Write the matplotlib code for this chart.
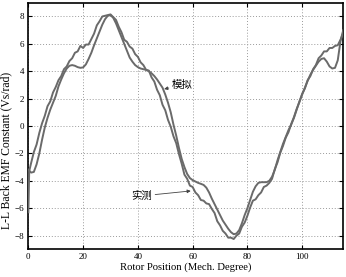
import matplotlib
matplotlib.use("Agg")
import matplotlib.pyplot as plt
import numpy as np

# Simulated (模拟) back EMF constant, 1-degree steps from 0 to 115
sim_x = list(range(0, 116))
sim_y = [-3.2, -3.4, -3.35, -2.8, -2.0, -1.0, -0.1, 0.6, 1.2, 1.7,
         2.2, 2.9, 3.4, 3.85, 4.2, 4.4, 4.45, 4.4, 4.3, 4.25,
         4.28, 4.5, 4.9, 5.35, 5.9, 6.4, 6.9, 7.4, 7.8, 8.05,
         8.1, 7.9, 7.5, 7.0, 6.5, 6.0, 5.5, 5.0, 4.7, 4.45,
         4.3, 4.2, 4.15, 4.1, 4.0, 3.85, 3.65, 3.4, 3.1, 2.8,
         2.3, 1.7, 1.0, 0.1, -0.7, -1.6, -2.4, -3.0, -3.5, -3.8,
         -3.95, -4.05, -4.15, -4.22, -4.3, -4.5, -4.85, -5.3, -5.7, -6.1,
         -6.5, -6.9, -7.2, -7.5, -7.75, -7.9, -7.85, -7.6, -7.1, -6.5,
         -6.0, -5.4, -4.8, -4.4, -4.15, -4.1, -4.1, -4.1, -4.0, -3.7,
         -3.2, -2.5, -1.9, -1.3, -0.8, -0.3, 0.1, 0.6, 1.2, 1.8,
         2.3, 2.8, 3.3, 3.75, 4.1, 4.4, 4.7, 4.9, 4.95, 4.7,
         4.35, 4.2, 4.25, 4.8, 6.2, 7.0]

# Measured (实测) back EMF constant
meas_x = [0, 0.3] + list(range(1, 116))
meas_y = [-6.3, -3.3,
          -2.7, -1.9, -1.35, -0.5, 0.2, 0.75, 1.45, 1.8, 2.45,
          2.85, 3.35, 3.65, 4.15, 4.35, 4.75, 4.95, 5.35, 5.45, 5.85,
          5.7, 5.95, 5.95, 6.35, 6.75, 7.35, 7.65, 8.0, 8.05, 8.1,
          8.15, 7.95, 7.75, 7.25, 6.85, 6.3, 6.15, 5.8, 5.65, 5.25,
          5.05, 4.65, 4.45, 4.1, 4.05, 3.55, 3.25, 2.65, 2.25, 1.55,
          1.15, 0.45, -0.05, -0.75, -1.25, -2.05, -2.75, -3.55, -3.85, -4.35,
          -4.45, -4.85, -5.05, -5.4, -5.45, -5.65, -5.7, -6.05, -6.35, -6.95,
          -7.25, -7.65, -7.85, -8.15, -8.15, -8.25, -8.0, -7.85, -7.35, -7.05,
          -6.55, -5.95, -5.45, -5.35, -5.05, -4.85, -4.45, -4.35, -4.15, -3.85,
          -3.15, -2.65, -1.95, -1.45, -0.85, -0.45, 0.15, 0.65, 1.25, 1.75,
          2.35, 2.75, 3.35, 3.65, 4.15, 4.45, 4.95, 5.15, 5.45, 5.45,
          5.7, 5.7, 5.85, 5.9, 6.3, 6.8]

x_ticks = [0, 20, 40, 60, 80, 100]
y_ticks = [-8, -6, -4, -2, 0, 2, 4, 6, 8]

plt.rcParams['font.family'] = ['Liberation Serif', 'Noto Sans CJK SC', 'DejaVu Sans']

fig = plt.figure(figsize=(3.46, 2.77), dpi=100)
ax = fig.add_axes([0.082, 0.100, 0.910, 0.890])

line_color = '#6a6a6a'
ax.plot(sim_x, sim_y, color=line_color, lw=1.4, zorder=3)
ax.plot(meas_x, meas_y, color=line_color, lw=1.4, zorder=3)

ax.set_xlim(0, 115)
ax.set_ylim(-9, 9)
ax.set_xticks(x_ticks)
ax.set_yticks(y_ticks)
ax.tick_params(direction='in', length=3, width=0.8, labelsize=6.5, top=True, right=True, pad=3)
ax.grid(True, linestyle=(0, (1, 2)), color='#9a9a9a', linewidth=0.7)
for s in ax.spines.values():
    s.set_linewidth(1.2)

ax.set_xlabel('Rotor Position (Mech. Degree)', fontsize=7.7, labelpad=1)
ax.set_ylabel('L-L Back EMF Constant (Vs/rad)', fontsize=8.4)
ax.yaxis.set_label_coords(-0.052, 0.40)

cjk = ['Noto Sans CJK SC', 'DejaVu Sans']
ax.annotate('模拟', xy=(49.6, 2.7), xytext=(52.3, 3.0), family=cjk, fontsize=7.5,
            ha='left', va='center',
            arrowprops=dict(arrowstyle='-|>', color='#444444', lw=0.6, mutation_scale=5,
                            shrinkA=0, shrinkB=0))
ax.annotate('实测', xy=(59.3, -4.74), xytext=(45.3, -5.1), family=cjk, fontsize=7.5,
            ha='right', va='center',
            arrowprops=dict(arrowstyle='-|>', color='#444444', lw=0.6, mutation_scale=5,
                            shrinkA=0, shrinkB=0))

fig.savefig('out.png', dpi=100)
